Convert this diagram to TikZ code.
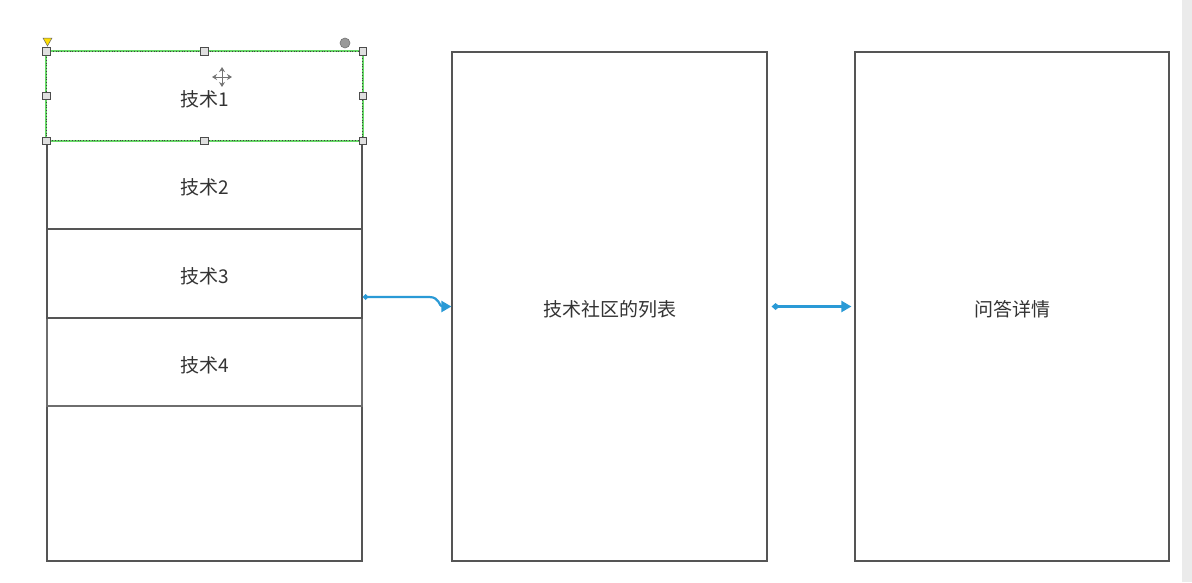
\documentclass[tikz,border=0pt]{standalone}
\usepackage{fontspec}
\setmainfont{Noto Sans CJK SC}
\usetikzlibrary{arrows.meta}
\definecolor{boxgray}{HTML}{555555}
\definecolor{txt}{HTML}{333333}
\definecolor{conn}{HTML}{2A9AD6}
\definecolor{selgreen}{HTML}{66D866}
\definecolor{strip}{HTML}{EBEBEB}
\begin{document}
\begin{tikzpicture}[x=1pt,y=-1pt,
  box/.style={draw=boxgray, line width=1.2pt, inner sep=0pt, text=txt,
    font=\fontsize{19}{21}\selectfont},
  rowbox/.style={box, minimum width=315pt},
  lbl/.style={text=txt, inner sep=0pt, font=\fontsize{19}{21}\selectfont},
  handle/.style={draw=black!70, fill=black!12, line width=0.7pt, inner sep=0pt,
    minimum size=7.5pt, rectangle},
  link/.style={draw=conn, line width=2.2pt},
]
\useasboundingbox (0,0) rectangle (1192,582);
\fill[white] (0,0) rectangle (1192,582);
\fill[strip] (1182,0) rectangle (1192,582);

% left column
\node[box, minimum width=315pt, minimum height=509pt, fill=white] (lcol) at (204.5,306.5) {};
\node[rowbox, minimum height=88pt, draw=boxgray!85] (r4) at (204.5,362) {};
\node[rowbox, minimum height=89pt, line width=1.6pt] (r2) at (204.5,184.5) {};
\node[rowbox, minimum height=89pt, line width=1.8pt] (r3) at (204.5,273.5) {};
\node[rowbox, minimum height=88pt, draw=none, fill=white] (r1) at (204.5,96) {};
\node[lbl] (t1) at (204.5,99) {技术1};
\node[lbl] (t2) at (204.5,187.5) {技术2};
\node[lbl] (t3) at (204.5,276.5) {技术3};
\node[lbl] (t4) at (204.5,365) {技术4};

% selection frame
\draw[selgreen, line width=2pt] (r1.north west) rectangle (r1.south east);
\draw[black!75, line width=0.8pt, dotted] (r1.north west) rectangle (r1.south east);
\foreach \a [count=\i] in {north west,north,north east,west,east,south west,south,south east}
  \node[handle] (h\i) at (r1.\a) {};
\fill[yellow!80!orange, draw=black!60, line width=0.5pt] (43,38) -- (52,38) -- (47.5,46) -- cycle;
\node[circle, fill=black!40, draw=black!55, line width=0.6pt, inner sep=0pt, minimum size=10pt] (rot) at (345,43) {};

% move cursor
\coordinate (mc) at (222,77);
\foreach \dx/\dy in {0/-10,0/10,-10/0,10/0}
  \draw[black!55, line width=1pt, -{Stealth[open,length=5pt,width=6pt]}] (mc) -- ++(\dx,\dy);

% middle and right boxes
\node[box, minimum width=315pt, minimum height=509pt] (mid) at (609.5,306.5) {};
\node[box, minimum width=314pt, minimum height=509pt] (det) at (1012,306.5) {};
\node[lbl] (tm) at (609.5,309) {技术社区的列表};
\node[lbl] (td) at (1012,309) {问答详情};

% connectors
\coordinate (c1s) at ([yshift=9.5pt]lcol.east);
\coordinate (c1k) at ([xshift=-22pt]c1s -| mid.west);
\draw[link, {Diamond[length=6pt,width=6pt]}-{Triangle[length=10pt,width=11pt]}, shorten >=-1pt]
  (c1s) -- (c1k) .. controls +(10,0) and ([xshift=-12pt]mid.west) .. ([xshift=-1pt]mid.west);
\draw[link, {Diamond[length=8pt,width=7pt]}-{Triangle[length=10pt,width=11pt]}]
  ([xshift=4pt]mid.east) -- ([xshift=-3pt]det.west);
\end{tikzpicture}
\end{document}
